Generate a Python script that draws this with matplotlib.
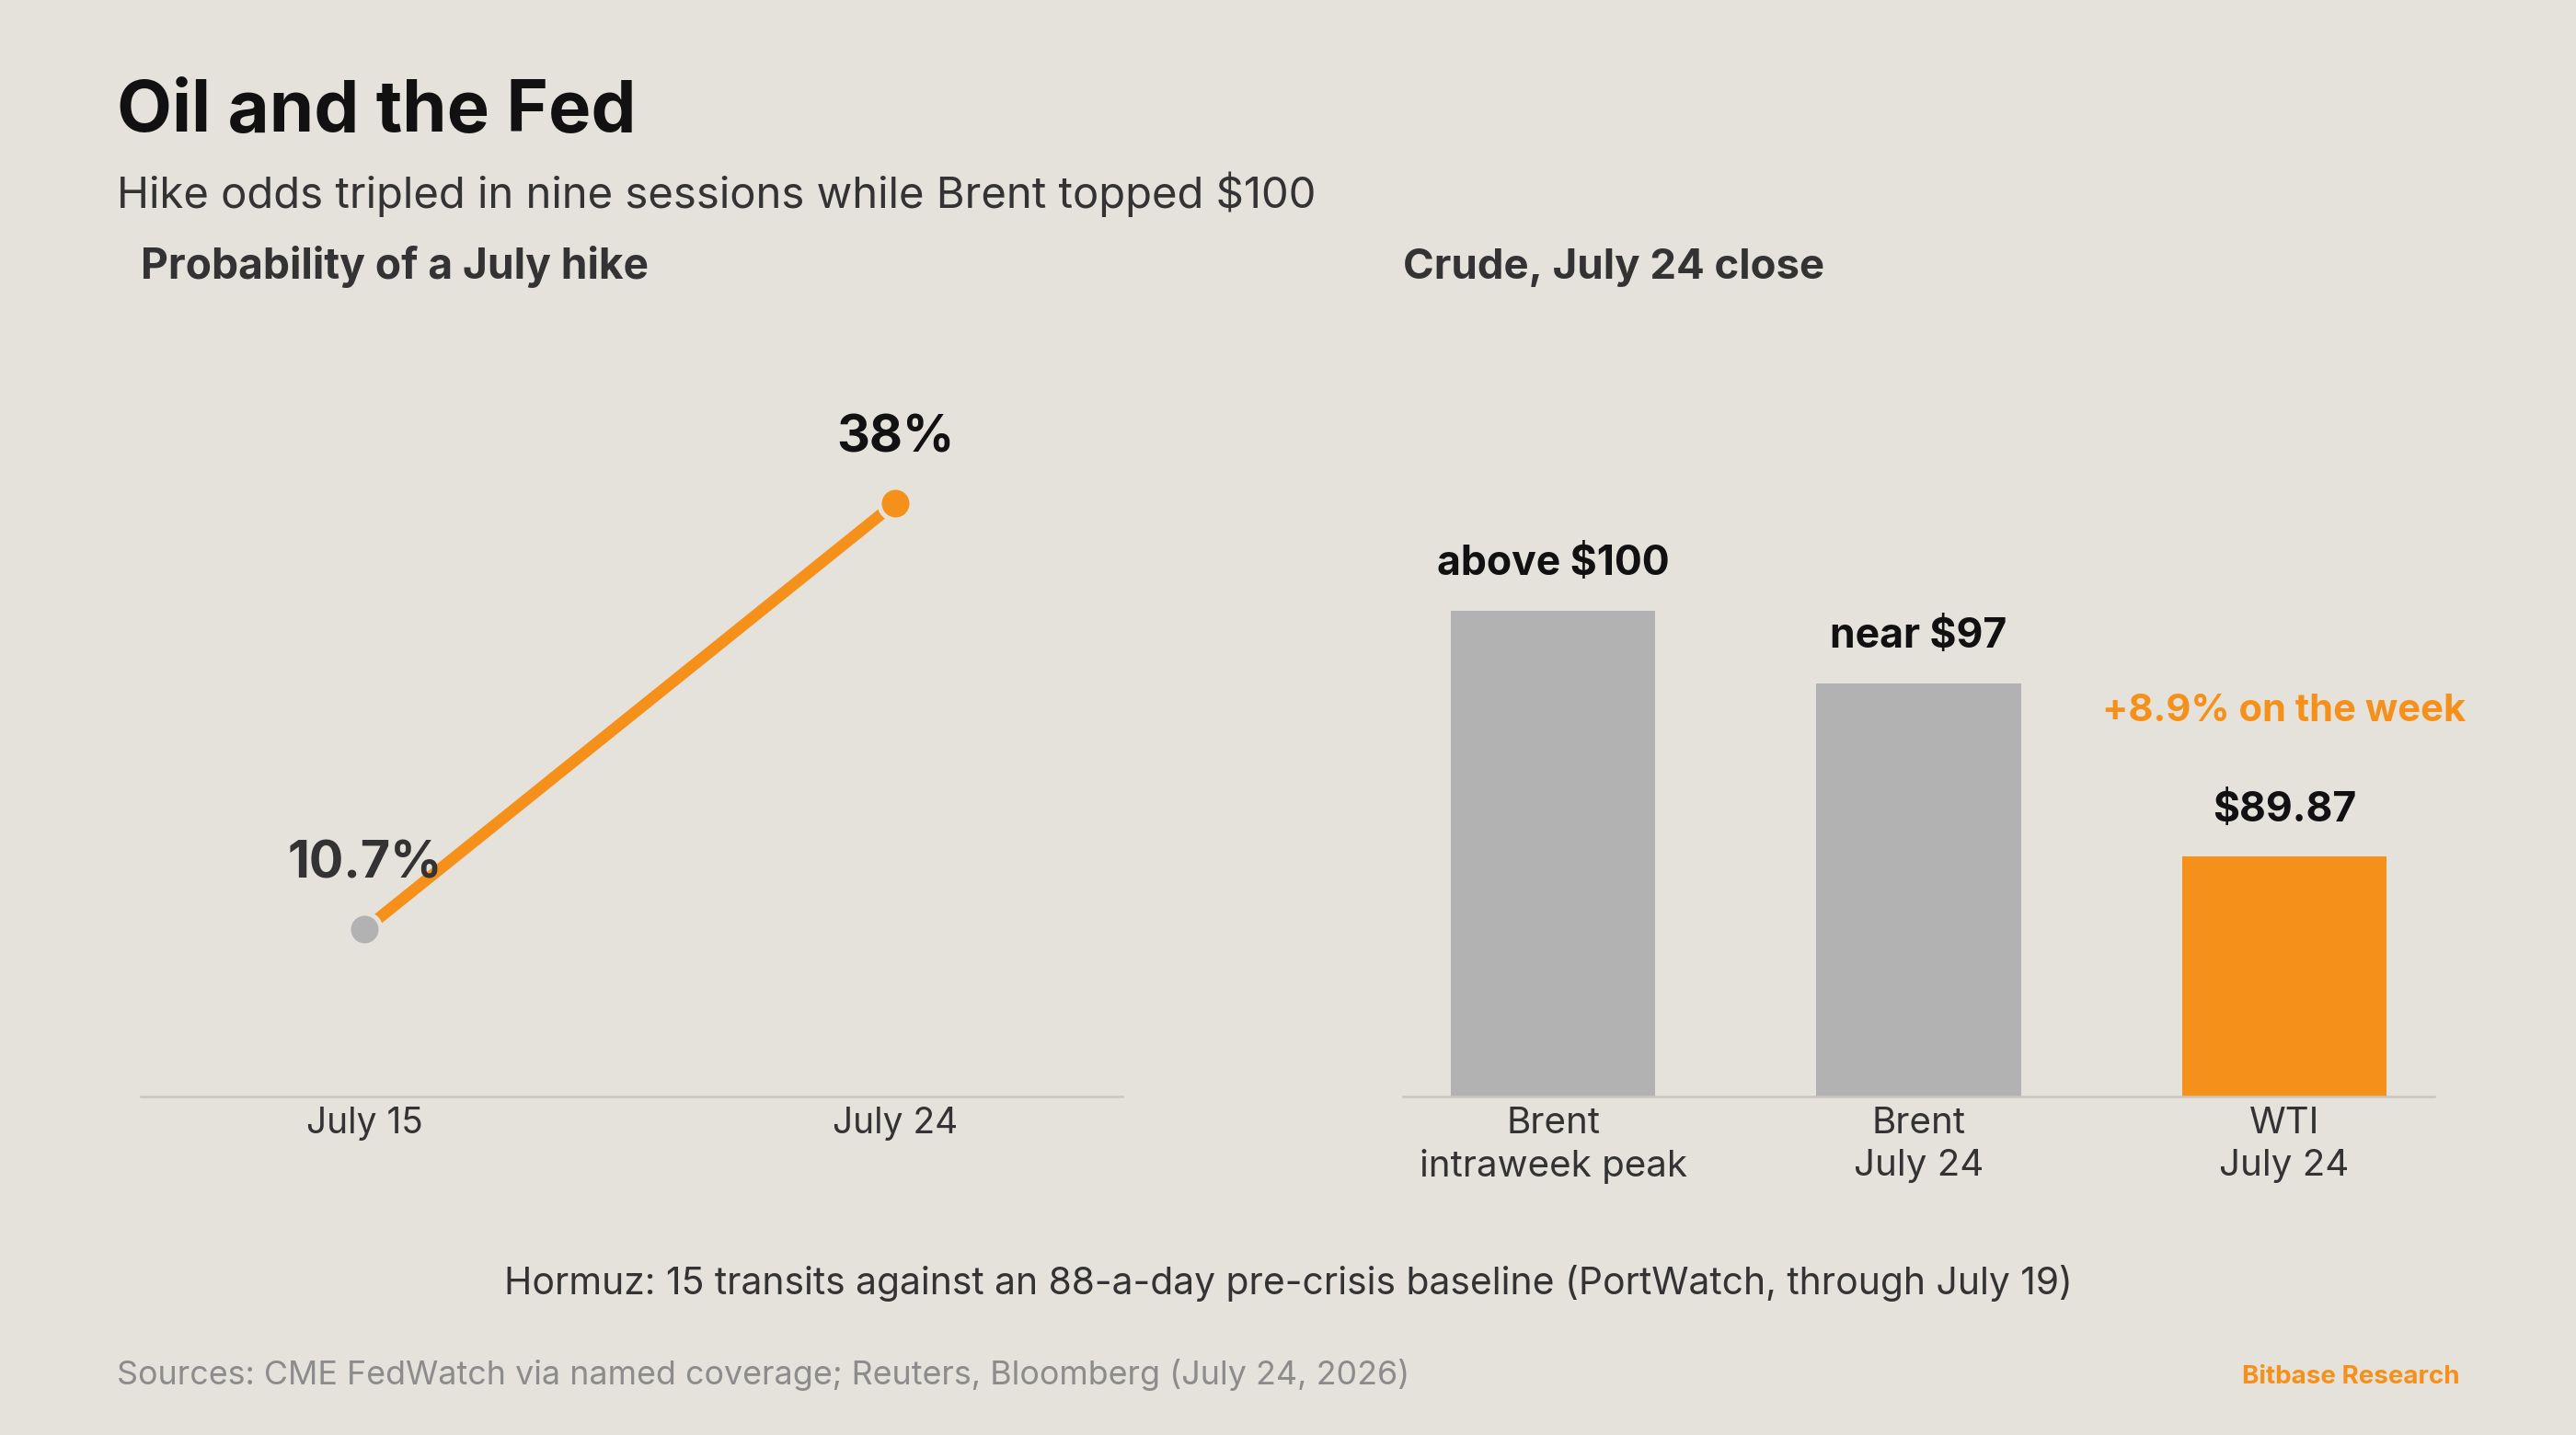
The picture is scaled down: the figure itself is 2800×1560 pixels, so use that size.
import matplotlib
matplotlib.use("Agg")
import matplotlib.pyplot as plt

plt.rcParams['font.family'] = ['Inter', 'DejaVu Sans']

# ---- data ----
prob_dates = ['July 15', 'July 24']
prob_values = [10.7, 38.0]
prob_labels = ['10.7%', '38%']

crude_categories = ['Brent\nintraweek peak', 'Brent\nJuly 24', 'WTI\nJuly 24']
crude_values = [100.0, 97.0, 89.87]
crude_value_labels = ['above $100', 'near $97', '$89.87']
wti_note = '+8.9% on the week'

BG = '#E5E1DB'
ORANGE = '#F5911B'
GRAY = '#B2B2B2'
DARK = '#111111'
TXT = '#333333'
SPINE = '#C9C5BF'

fig = plt.figure(figsize=(14, 7.8), dpi=200, facecolor=BG)

# ---- header ----
fig.text(0.0453, 0.9085, 'Oil and the Fed', fontsize=28, fontweight='bold',
         color=DARK, va='baseline', ha='left')
fig.text(0.0453, 0.8551, 'Hike odds tripled in nine sessions while Brent topped $100',
         fontsize=17, color=TXT, va='baseline', ha='left')
fig.text(0.0548, 0.8058, 'Probability of a July hike', fontsize=16.6, fontweight='bold',
         color=TXT, va='baseline', ha='left')
fig.text(0.5446, 0.8058, 'Crude, July 24 close', fontsize=16.4, fontweight='bold',
         color=TXT, va='baseline', ha='left')

# ---- left: line ----
ax1 = fig.add_axes([0.0548, 0.2357, 0.3808, 0.5446])
ax1.set_facecolor(BG)
x1 = list(range(len(prob_dates)))
ax1.plot(x1, prob_values, color=ORANGE, lw=4.5, solid_capstyle='butt', zorder=2)
marker_colors = [GRAY, ORANGE]
for xi, yi, c in zip(x1, prob_values, marker_colors):
    ax1.plot([xi], [yi], 'o', ms=12.6, mfc=c, mec=BG, mew=1.8, zorder=3)
label_colors = ['#333333', DARK]
for xi, yi, lab, c in zip(x1, prob_values, prob_labels, label_colors):
    ax1.annotate(lab, (xi, yi), xytext=(0, 20), textcoords='offset points',
                 ha='center', va='baseline', fontsize=20, fontweight='bold', color=c)
ax1.set_xlim(-0.421, 1.427)
ax1.set_ylim(0, 50)
ax1.set_xticks(x1)
ax1.set_xticklabels(prob_dates, fontsize=14, color=TXT)
ax1.set_yticks([])
for s in ['top', 'right', 'left']:
    ax1.spines[s].set_visible(False)
ax1.spines['bottom'].set_color(SPINE)
ax1.spines['bottom'].set_linewidth(0.9)
ax1.tick_params(axis='x', length=0, pad=4)

# ---- right: bars ----
ax2 = fig.add_axes([0.5446, 0.2357, 0.4005, 0.5446])
ax2.set_facecolor(BG)
x2 = list(range(len(crude_categories)))
bar_colors = [GRAY, GRAY, ORANGE]
bars = ax2.bar(x2, crude_values, width=0.56, color=bar_colors, zorder=2)
for b, lab in zip(bars, crude_value_labels):
    ax2.annotate(lab, (b.get_x() + b.get_width() / 2, b.get_height()), xytext=(0, 14),
                 textcoords='offset points', ha='center', va='baseline',
                 fontsize=16, fontweight='bold', color=DARK)
b3 = bars[2]
ax2.annotate(wti_note, (b3.get_x() + b3.get_width() / 2, b3.get_height()), xytext=(0, 53),
             textcoords='offset points', ha='center', va='baseline',
             fontsize=15, fontweight='bold', color=ORANGE)
ax2.set_xlim(-0.411, 2.411)
ax2.set_ylim(80, 112.14)
ax2.set_xticks(x2)
ax2.set_xticklabels(crude_categories, fontsize=14.5, color=TXT, linespacing=1.3)
ax2.set_yticks([])
for s in ['top', 'right', 'left']:
    ax2.spines[s].set_visible(False)
ax2.spines['bottom'].set_color(SPINE)
ax2.spines['bottom'].set_linewidth(0.9)
ax2.tick_params(axis='x', length=0, pad=4)

# ---- footer ----
fig.text(0.5, 0.0981,
         'Hormuz: 15 transits against an 88-a-day pre-crisis baseline (PortWatch, through July 19)',
         fontsize=14.7, color=TXT, ha='center', va='baseline')
fig.text(0.0453, 0.0353,
         'Sources: CME FedWatch via named coverage; Reuters, Bloomberg (July 24, 2026)',
         fontsize=12.9, color='#8C8C8C', ha='left', va='baseline')
fig.text(0.9547, 0.036, 'Bitbase Research', fontsize=10, fontweight='bold',
         color=ORANGE, ha='right', va='baseline')

fig.savefig('out.png', dpi=200, facecolor=BG)
